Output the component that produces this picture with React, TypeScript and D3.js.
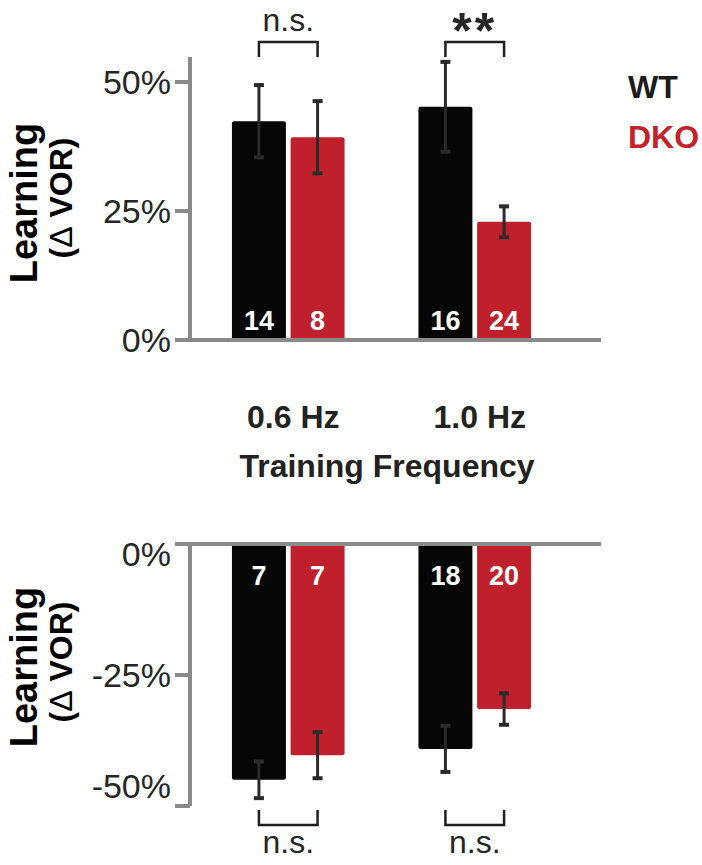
import { useEffect, useRef } from 'react';
import * as d3 from 'd3';

const groups = ['0.6 Hz', '1.0 Hz'];
const series = ['WT', 'DKO'];
const seriesColors = ['#060606', '#c0202b'];
const legendColors = ['#1c1c1c', '#c4222b'];

// top panel
const topMeans = [[42.4, 39.3], [45.2, 22.9]];
const topErr = [[7.0, 7.0], [8.7, 3.0]];
const topN = [[14, 8], [16, 24]];
const topTicks = [0, 25, 50];
const topSig = ['n.s.', '**'];

// bottom panel
const botMeans = [[-45.0, -40.3], [-39.1, -31.5]];
const botErr = [[3.5, 4.4], [4.4, 3.0]];
const botN = [[7, 7], [18, 20]];
const botTicks = [0, -25, -50];
const botSig = ['n.s.', 'n.s.'];

const FONT = '"Liberation Sans", Arial, Helvetica, sans-serif';

const App = () => {
  const svgRef = useRef<SVGSVGElement>(null);

  useEffect(() => {
    if (!svgRef.current) return;
    const svg = d3.select(svgRef.current);
    svg.selectAll('*').remove();

    const axisColor = '#8a8a8a';
    const axisX = 190;
    const x0 = d3.scaleBand().domain(groups).range([195, 568]);
    const x1 = d3.scaleBand().domain(series).range([0, x0.bandwidth()]).paddingInner(0.08).paddingOuter(0.63);
    const barCenter = (g: string, s: string) => (x0(g) || 0) + (x1(s) || 0) + x1.bandwidth() / 2;

    const yTop = d3.scaleLinear().domain([0, 50]).range([340, 82]);
    const yBot = d3.scaleLinear().domain([-50, 0]).range([806, 544]);

    const drawPanel = (
      y: d3.ScaleLinear<number, number>,
      means: number[][],
      errs: number[][],
      ns: number[][],
      ticks: number[],
      sig: string[],
      top: boolean
    ) => {
      const g = svg.append('g');
      // bars
      groups.forEach((grp, gi) => {
        series.forEach((s, si) => {
          const v = means[gi][si];
          g.append('rect')
            .attr('x', (x0(grp) || 0) + (x1(s) || 0))
            .attr('y', Math.min(y(v), y(0)))
            .attr('width', x1.bandwidth())
            .attr('height', Math.abs(y(v) - y(0)))
            .attr('rx', 2)
            .attr('fill', seriesColors[si]);
        });
      });
      // axes
      const yMaxPix = top ? 57 : y(-50);
      g.append('line')
        .attr('x1', axisX).attr('x2', axisX)
        .attr('y1', top ? yMaxPix : y(0)).attr('y2', top ? y(0) : yMaxPix)
        .attr('stroke', axisColor).attr('stroke-width', 4);
      g.append('line')
        .attr('x1', 177).attr('x2', 601)
        .attr('y1', y(0)).attr('y2', y(0))
        .attr('stroke', axisColor).attr('stroke-width', 4);
      ticks.forEach((t, i) => {
        g.append('line')
          .attr('x1', 175).attr('x2', axisX)
          .attr('y1', y(t)).attr('y2', y(t))
          .attr('stroke', axisColor).attr('stroke-width', 4);
        const shift = top ? 0 : [10, 0, -20][i];
        g.append('text')
          .attr('x', 171)
          .attr('y', y(t) + shift)
          .attr('dy', '0.36em')
          .attr('text-anchor', 'end')
          .attr('font-family', FONT)
          .attr('font-size', 34)
          .attr('fill', '#262626')
          .text(`${t}%`);
      });
      // error bars
      groups.forEach((grp, gi) => {
        series.forEach((s, si) => {
          const cx = barCenter(grp, s);
          const v = means[gi][si];
          const e = errs[gi][si];
          g.append('line')
            .attr('x1', cx).attr('x2', cx)
            .attr('y1', y(v + e)).attr('y2', y(v - e))
            .attr('stroke', '#2a2a2a').attr('stroke-width', 3);
          [v + e, v - e].forEach(ev => {
            g.append('rect')
              .attr('x', cx - 5).attr('y', y(ev) - 2)
              .attr('width', 10).attr('height', 4)
              .attr('fill', '#2a2a2a');
          });
          g.append('text')
            .attr('x', cx)
            .attr('y', top ? y(0) - 10 : y(0) + 41)
            .attr('text-anchor', 'middle')
            .attr('font-family', FONT)
            .attr('font-weight', 'bold')
            .attr('font-size', 27)
            .attr('fill', '#ffffff')
            .text(ns[gi][si]);
        });
        // significance bracket
        const a = barCenter(grp, series[0]);
        const b = barCenter(grp, series[1]);
        const by = top ? 42 : 825;
        const leg = top ? 15 : -15;
        g.append('path')
          .attr('d', `M${a},${by + leg}V${by}H${b}V${by + leg}`)
          .attr('fill', 'none')
          .attr('stroke', '#1e1e1e')
          .attr('stroke-width', 2.5);
        const isStar = sig[gi] === '**';
        g.append('text')
          .attr('x', (a + b) / 2)
          .attr('y', top ? (isStar ? 48 : 31) : 853)
          .attr('text-anchor', 'middle')
          .attr('font-family', FONT)
          .attr('font-weight', isStar ? 'bold' : 'normal')
          .attr('font-size', isStar ? 50 : 32)
          .attr('letter-spacing', isStar ? 3 : 0)
          .attr('fill', '#262626')
          .text(sig[gi]);
      });
      // y label
      const midY = top ? 203 : 667;
      const lab = g.append('g').attr('transform', `translate(37,${midY}) rotate(-90)`);
      lab.append('text')
        .attr('text-anchor', 'middle')
        .attr('font-family', FONT)
        .attr('font-weight', 'bold')
        .attr('font-size', 38)
        .attr('fill', '#000')
        .text('Learning');
      const sub = g.append('g').attr('transform', `translate(72,${midY - 5}) rotate(-90)`)
        .append('text')
        .attr('text-anchor', 'middle')
        .attr('font-family', FONT)
        .attr('font-weight', 'bold')
        .attr('font-size', 32)
        .attr('fill', '#000');
      sub.append('tspan').text('(');
      sub.append('tspan').attr('font-weight', 'normal').text('\u0394');
      sub.append('tspan').text(' VOR)');
    };

    drawPanel(yTop, topMeans, topErr, topN, topTicks, topSig, true);
    drawPanel(yBot, botMeans, botErr, botN, botTicks, botSig, false);

    // category labels
    groups.forEach(grp => {
      svg.append('text')
        .attr('x', (x0(grp) || 0) + x0.bandwidth() / 2 + 5)
        .attr('y', 428)
        .attr('text-anchor', 'middle')
        .attr('font-family', FONT)
        .attr('font-weight', 'bold')
        .attr('font-size', 32)
        .attr('fill', '#222')
        .text(grp);
    });
    svg.append('text')
      .attr('x', 387)
      .attr('y', 477)
      .attr('text-anchor', 'middle')
      .attr('font-family', FONT)
      .attr('font-weight', 'bold')
      .attr('font-size', 32)
      .attr('fill', '#222')
      .text('Training Frequency');

    // legend
    series.forEach((s, i) => {
      svg.append('text')
        .attr('x', 628)
        .attr('y', 98 + i * 50)
        .attr('font-family', FONT)
        .attr('font-weight', 'bold')
        .attr('font-size', 32)
        .attr('fill', legendColors[i])
        .text(s);
    });
  }, []);

  return (
    <svg
      ref={svgRef}
      width={702}
      height={865}
      style={{ position: 'absolute', left: 0, top: 0, background: '#fff' }}
    ></svg>
  );
};

export default App;
